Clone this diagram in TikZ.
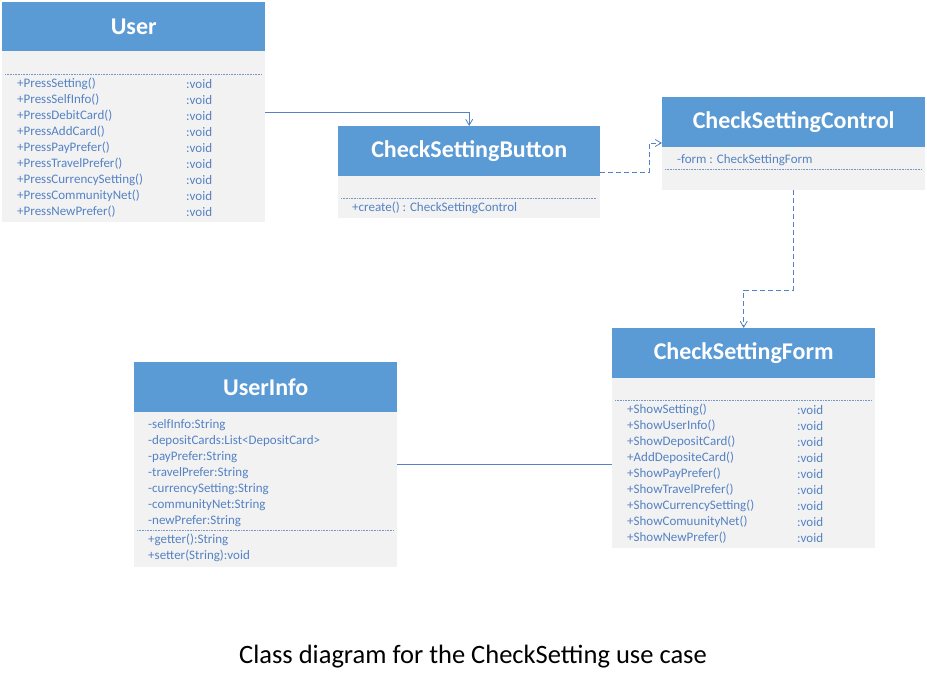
\documentclass[tikz,border=0pt]{standalone}
\usepackage{fontspec}
\setmainfont{Carlito}
\usetikzlibrary{arrows.meta}
\definecolor{hdr}{RGB}{91,155,213}
\definecolor{bodyc}{RGB}{242,242,242}
\definecolor{txt}{RGB}{84,130,196}
\definecolor{ln}{RGB}{84,130,196}
\definecolor{sepc}{RGB}{120,150,195}
\begin{document}
\begin{tikzpicture}[x=1pt,y=-1pt,
  hdrbox/.style={draw=none,fill=hdr,anchor=north west,inner sep=0pt,text=white,font=\fontsize{24}{28}\selectfont\bfseries},
  bodybox/.style={draw=none,fill=bodyc,anchor=north west,inner sep=0pt},
  row/.style={anchor=west,inner sep=0pt,text=txt,font=\fontsize{13}{15}\selectfont},
  sepline/.style={draw=sepc,densely dotted,line width=0.6pt},
  assoc/.style={draw=ln,line width=0.8pt,-{Straight Barb[length=6pt,width=7pt]}},
  dep/.style={draw=ln,line width=0.8pt,dash pattern=on 5pt off 3pt,-{Straight Barb[length=6pt,width=7pt]}},
  plainln/.style={draw=ln,line width=0.8pt}]
\useasboundingbox (0,0) rectangle (927,686);
\fill[white] (0,0) rectangle (927,686);

% User
\node[bodybox,minimum width=263pt,minimum height=171pt] (userB) at (2,51) {};
\node[hdrbox,minimum width=263pt,minimum height=49pt] (userH) at (2,2) {User};
\draw[sepline] (5,74) -- (262,74);
\foreach \t [count=\i] in {+PressSetting(),+PressSelfInfo(),+PressDebitCard(),+PressAddCard(),+PressPayPrefer(),+PressTravelPrefer(),+PressCurrencySetting(),+PressCommunityNet(),+PressNewPrefer()}{
  \node[row] (um\i) at (17,68+16*\i) {\t};
  \node[row] (uv\i) at (186,68+16*\i) {:void};
}

% CheckSettingButton
\node[bodybox,minimum width=262pt,minimum height=42pt] (btnB) at (338,176) {};
\node[hdrbox,minimum width=262pt,minimum height=50pt] (btnH) at (338,126) {CheckSettingButton};
\draw[sepline] (341,198) -- (597,198);
\node[row] (bm1) at (352,208) {+create() : CheckSettingControl};

% CheckSettingControl
\node[bodybox,minimum width=263pt,minimum height=43pt] (ctlB) at (662,147) {};
\node[hdrbox,minimum width=263pt,minimum height=50pt] (ctlH) at (662,97) {CheckSettingControl};
\node[row] (ca1) at (677,160) {-form : CheckSettingForm};
\draw[sepline] (665,169) -- (922,169);

% CheckSettingForm
\node[bodybox,minimum width=263pt,minimum height=170pt] (frmB) at (612,378) {};
\node[hdrbox,minimum width=263pt,minimum height=50pt] (frmH) at (612,328) {CheckSettingForm};
\draw[sepline] (615,400) -- (872,400);
\foreach \t [count=\i] in {+ShowSetting(),+ShowUserInfo(),+ShowDepositCard(),+AddDepositeCard(),+ShowPayPrefer(),+ShowTravelPrefer(),+ShowCurrencySetting(),+ShowComuunityNet(),+ShowNewPrefer()}{
  \node[row] (fm\i) at (627,394+16*\i) {\t};
  \node[row] (fv\i) at (797,394+16*\i) {:void};
}

% UserInfo
\node[bodybox,minimum width=263pt,minimum height=155pt] (uiB) at (134,412) {};
\node[hdrbox,minimum width=263pt,minimum height=50pt] (uiH) at (134,362) {UserInfo};
\foreach \t [count=\i] in {-selfInfo:String,-depositCards:List<DepositCard>,-payPrefer:String,-travelPrefer:String,-currencySetting:String,-communityNet:String,-newPrefer:String}{
  \node[row] (ia\i) at (148,409+16*\i) {\t};
}
\draw[sepline] (137,530) -- (394,530);
\node[row] (im1) at (148,540) {+getter():String};
\node[row] (im2) at (148,556) {+setter(String):void};

% connectors
\draw[assoc] (userB.north east |- 0,112) -| (btnH.north);
\draw[dep] (btnH.east |- 0,172) -| (649,143) -- (ctlH.west |- 0,143);
\draw[dep] (ctlB.south -| 793,0) -- (793,290) -| (frmH.north);
\draw[plainln] (uiB.east |- 0,464) -- (frmB.west |- 0,464);

% caption
\node[inner sep=0pt,font=\fontsize{26.5}{30}\selectfont] (cap) at (473,657) {Class diagram for the CheckSetting use case};
\end{tikzpicture}
\end{document}
